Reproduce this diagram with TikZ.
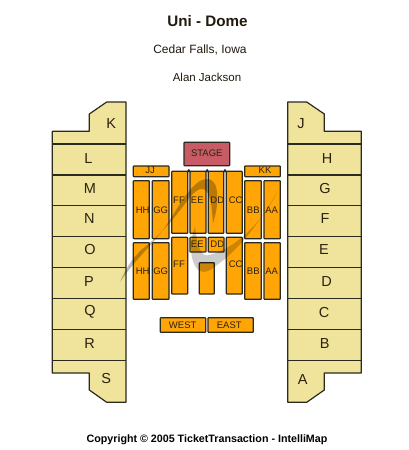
\documentclass[tikz,border=0pt]{standalone}
\usepackage{fontspec}
\setmainfont{Liberation Sans}
\definecolor{blockyellow}{HTML}{F0E49C}
\definecolor{secorange}{HTML}{FFA506}
\definecolor{stagered}{HTML}{C75B66}
\definecolor{edge}{HTML}{2A2A1E}
\definecolor{ink}{HTML}{2B2210}
\tikzset{
  outline/.style={draw=edge,line width=1.2pt,line join=round},
  sec/.style={outline,fill=secorange,rounded corners=0.6pt},
  lab/.style={text=ink,font=\fontsize{9.5}{9.5}\selectfont,inner sep=0pt},
  letter/.style={text=ink,font=\fontsize{14.5}{14.5}\selectfont,inner sep=0pt},
}
\newcommand{\secbox}[5]{\path[sec] (#2,#3) rectangle (#4,#5) coordinate (#1);}
\begin{document}
\begin{tikzpicture}[x=1pt,y=-1pt]
\useasboundingbox (0,0) rectangle (408,450);
\fill[white] (0,0) rectangle (408,450);
% side blocks
\path[outline,fill=blockyellow] (106.7,102) -- (126,102) -- (126,402.3) -- (106.7,402.3) -- (89.3,390) -- (89.3,373) -- (52.3,373) -- (52.3,131.3) -- (89.3,131.3) -- (89.3,114) -- cycle;
\path[outline,fill=blockyellow] (287.7,102) -- (306.7,102) -- (324.3,114) -- (324.3,131.3) -- (361.3,131.3) -- (361.3,373) -- (324.3,373) -- (324.3,390) -- (306.7,402.3) -- (287.7,402.3) -- cycle;
\foreach \yy in {144,175,205.7,236.3,267.3,298.3,329.3,360.3}{
  \draw[outline] (52.3,\yy) -- (126,\yy);
  \draw[outline] (287.7,\yy) -- (361.3,\yy);
}
% centre sections
\path[outline,fill=stagered,rounded corners=0.6pt] (184,142.3) rectangle (229.7,165.7);
\secbox{jj}{133.3}{166}{169}{176.7}
\secbox{kk}{244.7}{166}{280.3}{176.7}
\secbox{hha}{133.3}{180.7}{149.3}{238.7}
\secbox{gga}{152.3}{180.7}{169}{238.7}
\secbox{hhb}{133.3}{242.7}{149.3}{299.3}
\secbox{ggb}{152.3}{242.7}{169}{299.3}
\secbox{ffa}{171.7}{171.3}{187.7}{233.3}
\secbox{eea}{190}{171.3}{206}{233.3}
\secbox{dda}{208.3}{171.3}{223.7}{233.3}
\secbox{cca}{226.3}{171.3}{242.3}{233.3}
\secbox{bba}{244.7}{180.7}{261.3}{238.7}
\secbox{aaa}{264}{180.7}{280.3}{238.7}
\secbox{bbb}{244.7}{242.7}{261.3}{299.3}
\secbox{aab}{264}{242.7}{280.3}{299.3}
\secbox{ffb}{171.7}{237.3}{187.7}{294}
\secbox{ccb}{226.3}{237.3}{242.3}{294}
\secbox{eeb}{190}{237.3}{206}{252}
\secbox{ddb}{208.3}{237.3}{224}{252}
\secbox{mid}{199.3}{262.7}{214.3}{294}
\secbox{west}{160.3}{317.7}{205.7}{332.3}
\secbox{east}{208}{317.7}{253.3}{332.3}
\foreach \xx in {188.8,207.2,225}{
  \fill[edge] (\xx-2.4,172) -- (\xx,168.8) -- (\xx+2.4,172) -- cycle;
}
% watermark swooshes
\fill[black,opacity=0.2] (278,191) .. controls (258,224) and (240,250) .. (210,270) .. controls (202,274) and (196,272) .. (192,258) .. controls (190,245) and (192,235) .. (195,226.7) .. controls (197,245) and (200,255) .. (207,255.5) .. controls (225,252) and (255,235) .. (278,191) -- cycle;
\fill[black,opacity=0.27] (120,282) .. controls (135,260) and (150,247) .. (163,230) .. controls (176,212) and (186,190) .. (200,181) .. controls (210,176) and (216,181) .. (217,192) .. controls (218,204) and (216,214) .. (213,223.3) .. controls (212,212) and (212,200) .. (207,192) .. controls (203,186) and (197,189) .. (190,197) .. controls (176,216) and (160,236) .. (141,250) .. controls (131,260) and (125,270) .. (120,282) -- cycle;
% labels
\node[font=\bfseries\fontsize{15.2}{15.2}\selectfont,text=ink!80!black] (title) at (207.5,21) {Uni - Dome};
\node[font=\fontsize{12}{12}\selectfont,text=ink!80!black] (city) at (200,49.5) {Cedar Falls, Iowa};
\node[font=\fontsize{11.5}{11.5}\selectfont,text=ink!80!black] (act) at (207,77.5) {Alan Jackson};
\node[font=\bfseries\fontsize{10.7}{10.7}\selectfont,text=black] (copy) at (207,440) {Copyright © 2005 TicketTransaction - IntelliMap};
\foreach \nm/\xx/\yy in {K/111.3/123.3,L/88.3/158.3,M/90/188.3,N/89.3/219,O/90/250,P/89/281.7,Q/90/312.3,R/89.7/343.7,S/106.3/378.7,J/301/123.3,H/327/158.3,G/325/188.3,F/325/219,E/324/250,D/326.7/281.7,C/324/312.3,B/324.7/343.7,A/302.7/379.3}{
  \node[letter] (block\nm) at (\xx,\yy) {\nm};
}
\foreach \id/\tx/\xx/\yy in {stg/STAGE/206.8/153.5,jjl/JJ/150/170.7,kkl/KK/265/170.7,hhal/HH/142.7/210,ggal/GG/160.7/210,ffal/FF/179/200.7,eeal/EE/197.3/200.7,ddal/DD/217.3/200.7,ccal/CC/235.7/200.7,bbal/BB/253.3/210,aaal/AA/271.7/210,hhbl/HH/142.7/271,ggbl/GG/160.7/271,ffbl/FF/179/264.3,eebl/EE/197.3/244.7,ddbl/DD/217.3/244.7,ccbl/CC/235.7/264.3,bbbl/BB/253.3/271,aabl/AA/271.7/271,westl/WEST/182.7/325.7,eastl/EAST/229.3/325.7}{
  \node[lab] (\id) at (\xx,\yy) {\tx};
}
\end{tikzpicture}
\end{document}
